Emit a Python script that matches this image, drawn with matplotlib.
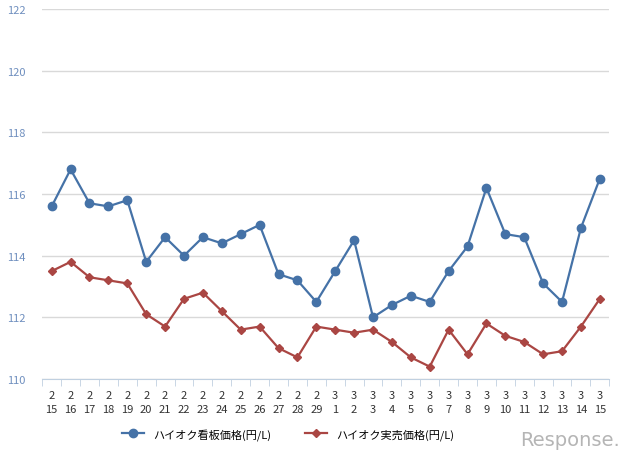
import numpy as np
import matplotlib
matplotlib.use("Agg")
import matplotlib.pyplot as plt

plt.rcParams['font.family'] = ['Noto Sans CJK JP', 'DejaVu Sans']

# dates (month, day)
months = [2] * 15 + [3] * 15
days = list(range(15, 30)) + list(range(1, 16))

# ハイオク看板価格 (signboard price, yen/L)
kanban = [115.6, 116.8, 115.7, 115.6, 115.8, 113.8, 114.6, 114.0, 114.6, 114.4,
          114.7, 115.0, 113.4, 113.2, 112.5, 113.5, 114.5, 112.0, 112.4, 112.7,
          112.5, 113.5, 114.3, 116.2, 114.7, 114.6, 113.1, 112.5, 114.9, 116.5]
# ハイオク実売価格 (actual selling price, yen/L)
jitsubai = [113.5, 113.8, 113.3, 113.2, 113.1, 112.1, 111.7, 112.6, 112.8, 112.2,
            111.6, 111.7, 111.0, 110.7, 111.7, 111.6, 111.5, 111.6, 111.2, 110.7,
            110.4, 111.6, 110.8, 111.8, 111.4, 111.2, 110.8, 110.9, 111.7, 112.6]

labels = [f"{m}\n{d}" for m, d in zip(months, days)]
x = np.arange(len(labels))

fig = plt.figure(figsize=(6.4, 4.6), dpi=100)
ax = fig.add_axes([0.066, 0.174, 0.886, 0.804])

ax.plot(x, kanban, color='#4572a7', marker='o', markersize=6, linewidth=1.6,
        label='ハイオク看板価格(円/L)', zorder=3)
ax.plot(x, jitsubai, color='#aa4643', marker='D', markersize=4, linewidth=1.6,
        label='ハイオク実売価格(円/L)', zorder=3)

ax.set_xlim(-0.5, len(labels) - 0.5)
ax.set_ylim(110, 122)
ax.set_yticks(np.arange(110, 123, 2))
ax.grid(axis='y', color='#d9d9d9', linewidth=1)
ax.set_axisbelow(True)

ax.set_xticks(x)
ax.set_xticklabels(labels, fontsize=8, color='#333333', linespacing=1.5)
ax.tick_params(axis='x', which='major', length=0, pad=8)
ax.set_xticks(np.arange(-0.5, len(labels)), minor=True)
ax.tick_params(axis='x', which='minor', length=5, color='#c0d0e0', direction='out')
ax.tick_params(axis='y', length=0, labelsize=8, labelcolor='#6f8fbf', pad=12)

for s in ['top', 'right', 'left']:
    ax.spines[s].set_visible(False)
ax.spines['bottom'].set_color('#c0d0e0')

fig.legend(loc='lower center', bbox_to_anchor=(0.45, 0.02), ncol=2, frameon=False,
           fontsize=8, handlelength=2, columnspacing=3)

fig.text(0.89, 0.043, 'Response.', fontsize=14, color='#b5b5b5',
         ha='center', va='center', family='DejaVu Sans')

fig.savefig('out.png', dpi=100)
